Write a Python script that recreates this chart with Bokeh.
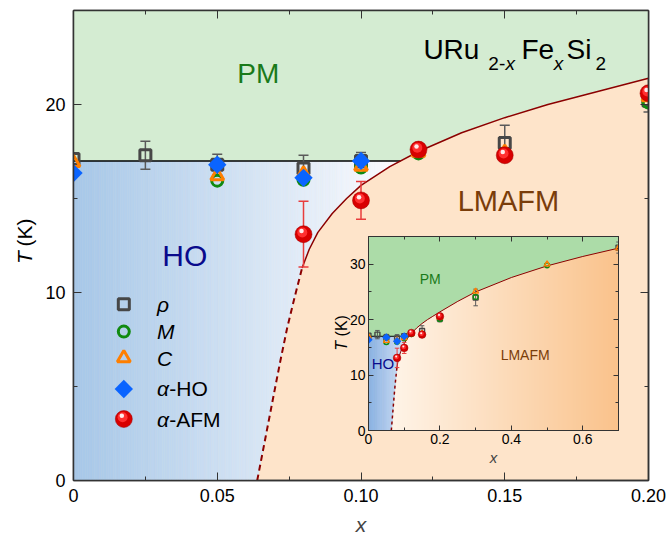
import numpy as np
from bokeh.plotting import figure
from bokeh.models import FixedTicker, LinearAxis, ColumnDataSource, Label
from bokeh.embed import file_html
from bokeh.resources import INLINE
from bokeh.core.properties import value
from bokeh.transform import dodge

FONT = "Liberation Sans"

# ---- transition temperatures of URu(2-x)Fe(x)Si2 ----
rho_x = [0.0, 0.025, 0.05, 0.08, 0.10, 0.15, 0.20, 0.30, 0.70]
rho_T = [17.1, 17.3, 16.8, 16.6, 17.0, 17.95, 20.2, 24.0, 33.0]
rho_err = [0.0, 0.75, 0.55, 0.7, 0.45, 0.95, 0.6, 1.5, 1.0]

M_x = [0.05, 0.08, 0.10, 0.12, 0.15, 0.20, 0.30, 0.50]
M_T = [15.95, 16.0, 16.65, 17.4, 17.25, 20.1, 24.1, 29.8]

C_x = [0.0, 0.05, 0.08, 0.10, 0.12, 0.15, 0.20, 0.30, 0.50, 0.70]
C_T = [16.9, 16.2, 16.3, 16.7, 17.45, 17.45, 20.4, 25.1, 30.0, 32.9]

aHO_x = [0.0, 0.05, 0.08, 0.10]
aHO_T = [16.35, 16.8, 16.1, 17.0]

aAFM_x = [0.08, 0.10, 0.12, 0.15, 0.20]
aAFM_T = [13.1, 14.9, 17.6, 17.3, 20.6]
aAFM_err = [1.75, 1.0, 0.0, 0.0, 0.0]

# ---- phase boundaries ----
T_HO = 17.0
afm_x = [0.0795, 0.082, 0.085, 0.09, 0.095, 0.10, 0.11, 0.12, 0.135, 0.15,
         0.165, 0.18, 0.20, 0.25, 0.30, 0.40, 0.50, 0.60, 0.70]
afm_T = [11.3, 12.3, 13.2, 14.2, 15.0, 15.7, 16.7, 17.5, 18.5, 19.3,
         20.0, 20.6, 21.4, 23.3, 25.0, 27.6, 29.7, 31.4, 32.9]
afm_dash_x = [0.0639, 0.0668, 0.0697, 0.072, 0.0743, 0.077, 0.0795]
afm_dash_T = [0.0, 2.3, 4.6, 6.4, 8.1, 9.8, 11.3]

# ---- axes ----
main_x_ticks = [0.0, 0.05, 0.10, 0.15, 0.20]
main_x_labels = ["0", "0.05", "0.10", "0.15", "0.20"]
main_x_minor = [0.025, 0.075, 0.125, 0.175]
main_y_ticks = [0, 10, 20]
main_y_minor = [5, 15]
inset_x_ticks = [0.0, 0.2, 0.4, 0.6]
inset_x_minor = [0.1, 0.3, 0.5, 0.7]
inset_y_ticks = [0, 10, 20, 30]
inset_y_minor = [5, 15, 25]

bnd_x = np.array(afm_dash_x[:-1] + afm_x)
bnd_T = np.array(afm_dash_T[:-1] + afm_T)
x_cross = float(np.interp(T_HO, bnd_T, bnd_x))

BOUND = "#8b0000"
GREY = "#474747"
GREEN = "#108a10"
ORANGE = "#ff7f00"
BLUE = "#0a64ff"
RED = "#d80000"


def hexcol(c):
    return "#%02x%02x%02x" % tuple(int(round(v)) for v in c)


def ho_strips(c0, c1, n=140):
    edges = np.linspace(0.0, x_cross, n + 1)
    xs, ys, fills = [], [], []
    for a, b in zip(edges[:-1], edges[1:]):
        ta = float(np.interp(a, bnd_x, bnd_T, left=0.0))
        tb = float(np.interp(b, bnd_x, bnd_T, left=0.0))
        xs.append([a, b, b, a])
        ys.append([ta, tb, T_HO, T_HO])
        f = 0.5 * (a + b) / x_cross
        fills.append(hexcol([c0[i] + (c1[i] - c0[i]) * f for i in range(3)]))
    return ColumnDataSource(dict(xs=xs, ys=ys, fill=fills))


def draw_phases(p, pm_color, ho_c0, ho_c1, lw, dash, dash_w):
    p.patches("xs", "ys", source=ho_strips(ho_c0, ho_c1), fill_color="fill",
              line_color="fill", line_width=0.6)
    above = bnd_x > x_cross
    pm_x = [0.0, x_cross] + list(bnd_x[above]) + [0.7, 0.0]
    pm_y = [T_HO, T_HO] + list(bnd_T[above]) + [35.0, 35.0]
    p.patch(pm_x, pm_y, fill_color=pm_color, line_color=None)
    p.line([0.0, x_cross], [T_HO, T_HO], line_color="black", line_width=lw)
    p.line(afm_x, afm_T, line_color=BOUND, line_width=lw)
    p.line(afm_dash_x, afm_dash_T, line_color=BOUND, line_width=dash_w,
           line_dash=dash)


def draw_errors(p, xs, ts, es, color, lw, cap):
    xs, ts, es = np.array(xs), np.array(ts), np.array(es)
    m = es > 0
    src = ColumnDataSource(dict(x=xs[m], lo=ts[m] - es[m], hi=ts[m] + es[m]))
    p.segment(x0="x", y0="lo", x1="x", y1="hi", source=src,
              line_color=color, line_width=lw)
    p.scatter("x", "lo", source=src, marker="dash", size=cap,
              line_color=color, line_width=lw)
    p.scatter("x", "hi", source=src, marker="dash", size=cap,
              line_color=color, line_width=lw)


def draw_points(p, k, lw, px_x, px_t):
    draw_errors(p, rho_x, rho_T, rho_err, "#5a5a5a", max(1.0, lw * 0.5), 10 * k)
    draw_errors(p, aAFM_x, aAFM_T, aAFM_err, "#e83c3c", max(1.0, lw * 0.5), 10 * k)
    p.scatter(rho_x, rho_T, marker="square", size=11 * k, fill_color=None,
              line_color=GREY, line_width=lw)
    p.scatter(M_x, M_T, marker="circle", size=11 * k, fill_color=None,
              line_color=GREEN, line_width=lw)
    p.scatter(C_x, C_T, marker="triangle", size=13 * k, fill_color=None,
              line_color=ORANGE, line_width=lw)
    p.scatter(aHO_x, aHO_T, marker="square", angle=np.pi / 4, size=13 * k,
              fill_color=BLUE, line_color=None)
    src = ColumnDataSource(dict(x=aAFM_x, t=aAFM_T))
    p.scatter("x", "t", source=src, marker="circle", size=17 * k,
              fill_color=RED, line_color="#a00000", line_width=0.5)
    p.scatter(dodge("x", -1.2 * px_x * k, range=p.x_range),
              dodge("t", 1.8 * px_t * k, range=p.y_range), source=src,
              marker="circle", size=10 * k, fill_color="#ff3030", line_color=None)
    p.scatter(dodge("x", -2.0 * px_x * k, range=p.x_range),
              dodge("t", 3.2 * px_t * k, range=p.y_range), source=src,
              marker="circle", size=4.5 * k, fill_color="white", fill_alpha=0.9,
              line_color=None)


def style_axes(p, xt, xminor, yt, yminor, font_size, tick_in, minor_in, standoff, lw):
    p.below[0].ticker = FixedTicker(ticks=xt, minor_ticks=xminor)
    p.left[0].ticker = FixedTicker(ticks=yt, minor_ticks=yminor)
    for ax in (p.below[0], p.left[0]):
        ax.major_tick_in = tick_in
        ax.major_tick_out = 0
        ax.minor_tick_in = minor_in
        ax.minor_tick_out = 0
        ax.axis_line_color = "#333333"
        ax.axis_line_width = lw
        ax.major_tick_line_color = "#333333"
        ax.minor_tick_line_color = "#333333"
        ax.major_tick_line_width = 1
        ax.minor_tick_line_width = 1
        ax.major_label_text_font = FONT
        ax.major_label_text_font_size = font_size
        ax.major_label_text_color = "black"
        ax.major_label_standoff = standoff
    for loc, t, m in (("above", xt, xminor), ("right", yt, yminor)):
        ax = LinearAxis(ticker=FixedTicker(ticks=t, minor_ticks=m),
                        major_tick_in=tick_in, major_tick_out=0,
                        minor_tick_in=minor_in, minor_tick_out=0,
                        axis_line_color="#333333", axis_line_width=lw,
                        major_tick_line_color="#333333",
                        minor_tick_line_color="#333333",
                        major_label_text_color=None,
                        major_label_text_font_size="1px",
                        major_label_standoff=0)
        p.add_layout(ax, loc)


def txt(p, x, y, s, size, color="black", style="normal", align="center",
        baseline="middle"):
    p.text([x], [y], text=[s], text_font=value(FONT), text_font_size=value(size),
           text_color=color, text_font_style=style, text_align=align,
           text_baseline=baseline)


def side_label(p, x, y, s, size, style):
    p.add_layout(Label(x=x, y=y, text=s, angle=np.pi / 2, text_font=FONT,
                       text_font_size=size, text_font_style=style,
                       text_color="black", text_align="left",
                       text_baseline="middle"), "left")


# ================= main panel =================
# a wide fixed left border keeps the frame position independent of label sizes;
# the canvas is then shifted so the frame starts 73 px from the page edge
MAIN_LB = 110
p = figure(width=MAIN_LB + 575 + 18, height=544, x_range=(0, 0.2), y_range=(0, 25),
           output_backend="svg", toolbar_location=None,
           min_border_left=MAIN_LB, min_border_right=18, min_border_top=10,
           min_border_bottom=64, background_fill_color="#fee4ca",
           border_fill_color="white")
p.grid.visible = False
p.outline_line_color = "#333333"
p.outline_line_width = 1.5

draw_phases(p, "#d4ecd2", (166, 199, 232), (252, 252, 255), 1.5, "6 4", 2)
draw_points(p, 1.0, 3, 0.2 / 575, 25 / 470)

style_axes(p, main_x_ticks, main_x_minor, main_y_ticks, main_y_minor,
           "18px", 8, 4, 8, 1.5)
xb = p.below[0]
xb.major_label_overrides = dict(zip(main_x_ticks, main_x_labels))
xb.axis_label = "x"
xb.axis_label_text_font = FONT
xb.axis_label_text_font_size = "21px"
xb.axis_label_text_font_style = "italic"
xb.axis_label_standoff = 8

side_label(p, -0.01704, 11.51, "T", "21px", "italic")
side_label(p, -0.01704, 12.45, "(K)", "21px", "normal")

# region names
txt(p, 0.0387, 11.96, "HO", "30px", "#0a0a8c")
txt(p, 0.0643, 21.64, "PM", "28px", "#1a7a1a")
txt(p, 0.1513, 14.85, "LMAFM", "29px", "#7a3d0a")

# compound formula
txt(p, 0.1217, 22.92, "URu", "28px", align="left", baseline="alphabetic")
txt(p, 0.1443, 22.17, "2-", "19px", align="left", baseline="alphabetic")
txt(p, 0.1503, 22.17, "x", "19px", style="italic", align="left", baseline="alphabetic")
txt(p, 0.1558, 22.92, "Fe", "28px", align="left", baseline="alphabetic")
txt(p, 0.1670, 22.17, "x", "19px", style="italic", align="left", baseline="alphabetic")
txt(p, 0.1715, 22.92, "Si", "28px", align="left", baseline="alphabetic")
txt(p, 0.1816, 22.17, "2", "19px", align="left", baseline="alphabetic")

# key
key_x, key_tx, key_tx2 = 0.0175, 0.0290, 0.0333
key_T = [9.37, 7.92, 6.51, 4.87, 3.27]
p.scatter([key_x], [key_T[0]], marker="square", size=11, fill_color=None,
          line_color=GREY, line_width=3)
p.scatter([key_x], [key_T[1]], marker="circle", size=11, fill_color=None,
          line_color=GREEN, line_width=3)
p.scatter([key_x], [key_T[2]], marker="triangle", size=13, fill_color=None,
          line_color=ORANGE, line_width=3)
p.scatter([key_x], [key_T[3]], marker="square", angle=np.pi / 4, size=13,
          fill_color=BLUE, line_color=None)
p.scatter([key_x], [key_T[4]], marker="circle", size=17, fill_color=RED,
          line_color="#a00000", line_width=0.5)
p.scatter([key_x - 1.2 * 0.2 / 575], [key_T[4] + 1.8 * 25 / 470], marker="circle",
          size=10, fill_color="#ff3030", line_color=None)
p.scatter([key_x - 2.0 * 0.2 / 575], [key_T[4] + 3.2 * 25 / 470], marker="circle",
          size=4.5, fill_color="white", fill_alpha=0.9, line_color=None)
txt(p, key_tx, key_T[0], "ρ", "21px", style="italic", align="left")
txt(p, key_tx, key_T[1], "M", "21px", style="italic", align="left")
txt(p, key_tx, key_T[2], "C", "21px", style="italic", align="left")
txt(p, key_tx, key_T[3], "α", "21px", style="italic", align="left")
txt(p, key_tx2, key_T[3], "-HO", "21px", align="left")
txt(p, key_tx, key_T[4], "α", "21px", style="italic", align="left")
txt(p, key_tx2, key_T[4], "-AFM", "21px", align="left")

p.styles = {"position": "absolute", "left": "%dpx" % (73 - MAIN_LB), "top": "0px"}

# ================= inset panel =================
INSET_LB = 75
q = figure(width=INSET_LB + 250 + 12, height=250, x_range=(0, 0.7), y_range=(0, 35),
           output_backend="svg", toolbar_location=None,
           min_border_left=INSET_LB, min_border_right=12, min_border_top=11,
           min_border_bottom=45, background_fill_color=None,
           border_fill_color=None)
q.grid.visible = False
q.outline_line_color = "#222222"
q.outline_line_width = 1

# LMAFM shading: pale peach to orange along x
n = 200
c0, c1 = np.array([255, 243, 230]), np.array([250, 195, 140])
f = np.clip((np.linspace(0, 0.7, n) - 0.08) / 0.62, 0, 1)[:, None]
rgb = (c0 + (c1 - c0) * f).astype(np.uint8)
img = np.zeros((1, n, 4), dtype=np.uint8)
img[0, :, :3] = rgb
img[0, :, 3] = 255
q.image_rgba(image=[img.view(np.uint32).reshape(1, n)], x=0, y=0, dw=0.7, dh=35)

draw_phases(q, "#acdca8", (138, 178, 226), (222, 232, 248), 1.0, "3 3", 1.5)
draw_points(q, 0.45, 1.4, 0.7 / 250, 35 / 194)

style_axes(q, inset_x_ticks, inset_x_minor, inset_y_ticks, inset_y_minor,
           "14px", 5, 3, 3, 1)
xq = q.below[0]
xq.axis_label = "x"
xq.axis_label_text_font = FONT
xq.axis_label_text_font_size = "15px"
xq.axis_label_text_font_style = "italic"
xq.axis_label_standoff = 2

side_label(q, -0.0764, 14.4, "T", "16px", "italic")
side_label(q, -0.0764, 16.97, "(K)", "16px", "normal")

txt(q, 0.1727, 27.4, "PM", "14px", "#1a7a1a")
txt(q, 0.0403, 12.07, "HO", "15px", "#0a0a8c")
txt(q, 0.4386, 13.7, "LMAFM", "14px", "#7a3d0a")

# inset floats over the lower right part of the main panel
q.styles = {"position": "absolute", "left": "%dpx" % (368 - INSET_LB),
            "top": "225px", "z-index": "10"}

open("out.html", "w").write(file_html([p, q], INLINE))
